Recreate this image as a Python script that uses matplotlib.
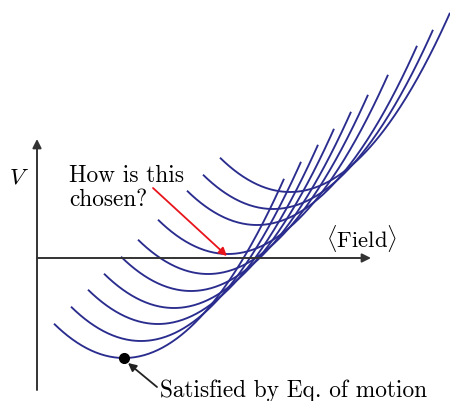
import numpy as np
import matplotlib
matplotlib.use("Agg")
import matplotlib.pyplot as plt

plt.rcParams['mathtext.fontset'] = 'cm'

# Family of potential curves: parabolas with given minima
min_x = [0.87, 1.04, 1.21, 1.37, 1.54, 1.71, 1.91, 2.20, 2.36, 2.53]
min_y = [-1.00, -0.83, -0.66, -0.50, -0.33, -0.16, 0.04, 0.33, 0.49, 0.66]
curvature = 0.70
u_left, u_right = -0.70, 1.60

curve_color = '#2b2d8e'
axis_color = '#333333'

fig = plt.figure(figsize=(4.5, 4.01), dpi=100)
ax = fig.add_axes([0, 0, 1, 1])
ax.set_xlim(-0.37, 4.13)
ax.set_ylim(-1.43, 2.58)
ax.axis('off')

# axes with arrows
ax.annotate('', xy=(3.34, 0), xytext=(0, 0),
            arrowprops=dict(arrowstyle='-|>', color=axis_color, lw=1.4,
                            mutation_scale=13, shrinkA=0, shrinkB=0))
ax.annotate('', xy=(0, 1.19), xytext=(0, -1.32),
            arrowprops=dict(arrowstyle='-|>', color=axis_color, lw=1.4,
                            mutation_scale=13, shrinkA=0, shrinkB=0))

for mx, my in zip(min_x, min_y):
    u = np.linspace(u_left, u_right, 200)
    ax.plot(mx + u, my + curvature * u**2, color=curve_color, lw=1.35,
            solid_capstyle='butt')

# dot at minimum of lowest curve
ax.plot(min_x[0], min_y[0], 'o', color='black', ms=7, zorder=5)

fs = 16.8
ax.text(-0.185, 0.81, r'$V$', fontsize=fs, ha='center', va='center')
ax.text(0.32, 0.76, 'How is this', fontsize=fs, family='cmr10', ha='left', va='baseline')
ax.text(0.32, 0.52, 'chosen?', fontsize=fs, family='cmr10', ha='left', va='baseline')
ax.text(2.89, 0.11, r'$\langle\mathrm{Field}\rangle$', fontsize=16.3, ha='left', va='baseline')
ax.text(1.23, -1.39, 'Satisfied by Eq. of motion', fontsize=fs, family='cmr10',
        ha='left', va='baseline')

ax.annotate('', xy=(1.90, 0.02), xytext=(1.16, 0.70),
            arrowprops=dict(arrowstyle='-|>', color='#e8141c', lw=1.3,
                            mutation_scale=12, shrinkA=0, shrinkB=0))
ax.annotate('', xy=(0.91, -1.05), xytext=(1.20, -1.29),
            arrowprops=dict(arrowstyle='-|>', color='#222222', lw=1.3,
                            mutation_scale=12, shrinkA=0, shrinkB=0))

fig.savefig('out.png', dpi=100)
